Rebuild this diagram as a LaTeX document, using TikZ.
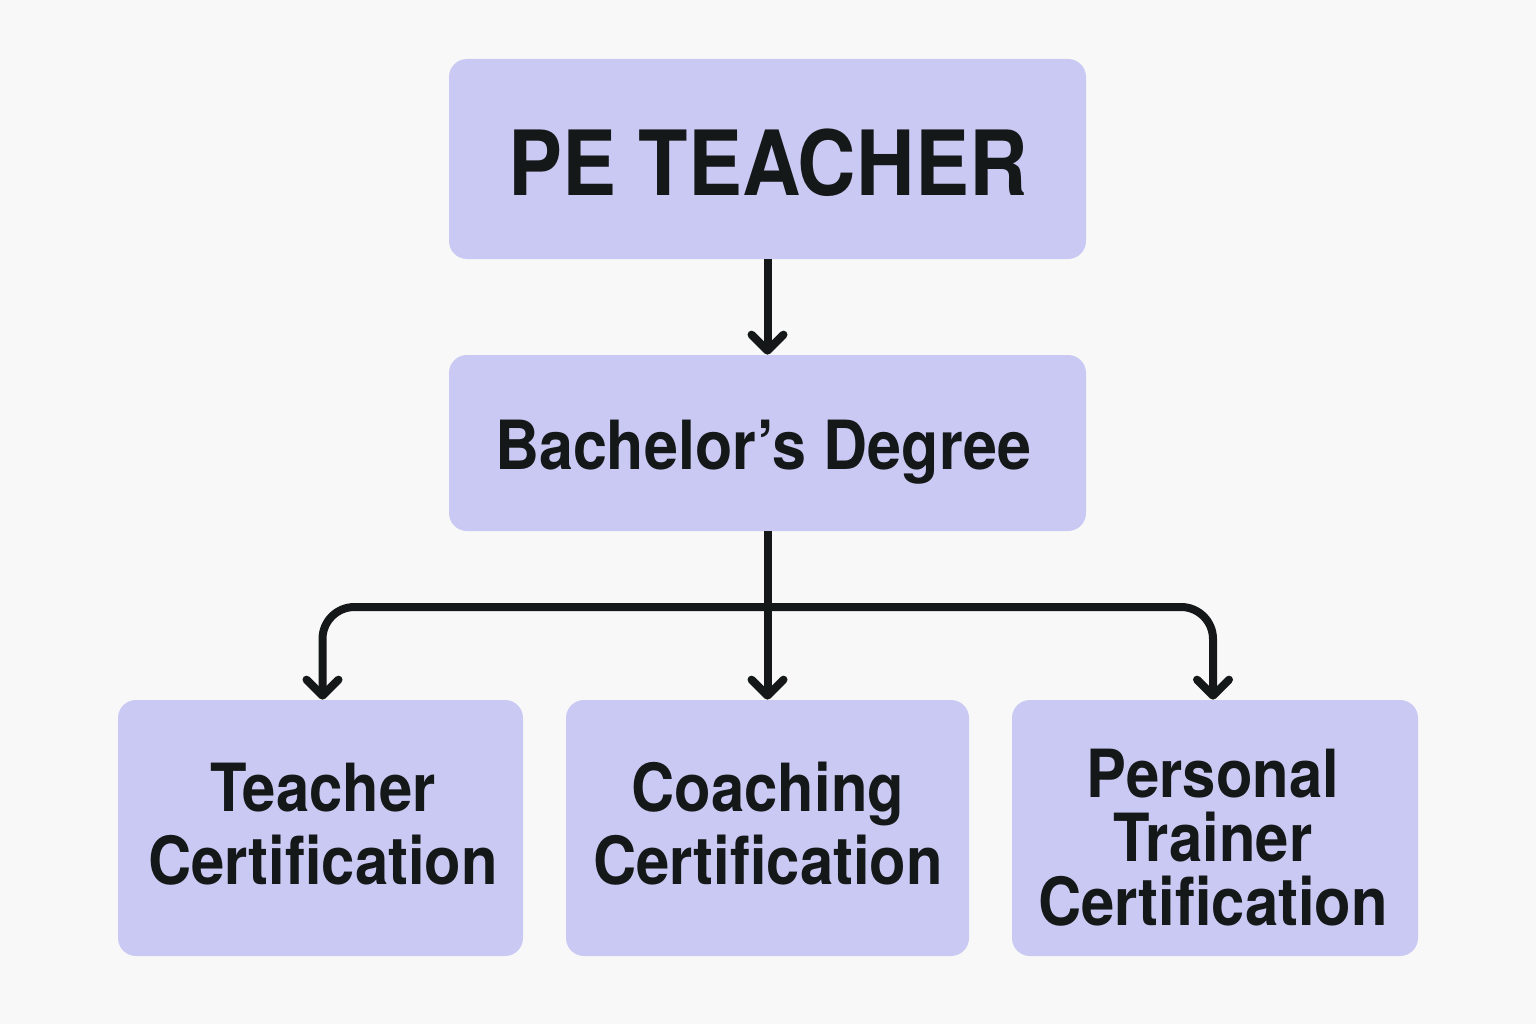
\documentclass[tikz,border=0pt]{standalone}
\usepackage{fontspec}
\setmainfont[FakeStretch=0.9]{TeX Gyre Heros}
\usetikzlibrary{arrows.meta}
\definecolor{bg}{HTML}{F8F8F8}
\definecolor{boxfill}{HTML}{C9C9F4}
\definecolor{ink}{HTML}{151818}
\tikzset{
  box/.style={fill=boxfill, draw=none, rounded corners=18*0.02cm, text=ink, align=center, font=\bfseries, inner sep=0pt},
  arr/.style={draw=ink, line width=8*0.02cm, -{Straight Barb[length=16*0.02cm, width=32*0.02cm, round]}},
  lbl/.style={align=center, text=ink},
}
\begin{document}
\begin{tikzpicture}[x=0.02cm, y=-0.02cm]
\fill[bg] (0,0) rectangle (1536,1024);
\useasboundingbox (0,0) rectangle (1536,1024);
\node[box, minimum width=637*0.02cm, minimum height=200*0.02cm] (pe) at (767.5,159) {};
\node[box, minimum width=637*0.02cm, minimum height=176*0.02cm] (bd) at (767.5,443) {};
\node[box, minimum width=405*0.02cm, minimum height=256*0.02cm] (tc) at (320.5,828) {};
\node[box, minimum width=403*0.02cm, minimum height=256*0.02cm] (cc) at (767.5,828) {};
\node[box, minimum width=406*0.02cm, minimum height=256*0.02cm] (pt) at (1215,828) {};
\node[lbl, font=\bfseries\fontsize{51.2}{55}\selectfont] (pet) at (768,163) {PE TEACHER};
\node[lbl, font=\bfseries\fontsize{38.6}{42}\selectfont] (bdt) at (763,452) {Bachelor’s Degree};
\node[lbl, font=\bfseries\fontsize{37.8}{41.5}\selectfont] (tct) at (323,824) {Teacher\\Certification};
\node[lbl, font=\bfseries\fontsize{37.8}{41.5}\selectfont] (cct) at (768,824) {Coaching\\Certification};
\node[lbl, font=\bfseries\fontsize{37.8}{36.4}\selectfont] (ptt) at (1213,838) {Personal\\Trainer\\Certification};
\coordinate (j) at (767.5,607);
\draw[arr] (pe.south) -- (bd.north);
\draw[arr] (bd.south) -- (cc.north);
\draw[arr, rounded corners=32*0.02cm] (j) -| ([xshift=2*0.02cm]tc.north);
\draw[arr, rounded corners=32*0.02cm] (j) -| ([xshift=-2*0.02cm]pt.north);
\end{tikzpicture}
\end{document}
